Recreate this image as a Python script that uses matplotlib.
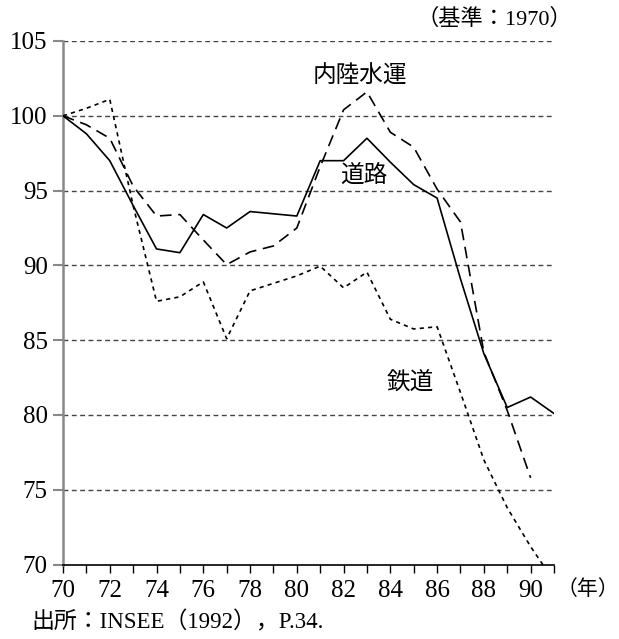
import numpy as np
import matplotlib
matplotlib.use("Agg")
import matplotlib.pyplot as plt

plt.rcParams['font.family'] = ['Liberation Serif', 'Noto Sans CJK JP']

years = list(range(70, 92))
road = [100, 98.8, 97.0, 94.0, 91.1, 90.85, 93.4, 92.5, 93.6, 93.45, 93.3,
        97.0, 97.0, 98.5, 96.9, 95.4, 94.5, 89.1, 84.1, 80.5, 81.2, 80.1]
inland = [100, 99.4, 98.5, 95.3, 93.3, 93.4, 91.7, 90.05, 90.9, 91.3, 92.5,
          96.6, 100.4, 101.6, 98.9, 97.9, 95.1, 92.9, 84.2, 80.3, 75.8, np.nan]
rail = [100, 100.5, 101.1, 94.0, 87.6, 87.9, 88.9, 85.1, 88.3, 88.8, 89.3,
        89.95, 88.5, 89.55, 86.4, 85.75, 85.9, 81.5, 77.0, 73.8, 71.2, 68.9]

yticks = [70, 75, 80, 85, 90, 95, 100, 105]
xlabels = list(range(70, 92, 2))

fig = plt.figure(figsize=(6.19, 6.39), dpi=100)
ax = fig.add_axes([63 / 619, 1 - 564.6 / 639, 491 / 619, 523.6 / 639])

# grid lines (dashed) at 75..105
for y in yticks[1:]:
    ax.axhline(y, color='#444444', lw=1.0, linestyle=(0, (3.5, 2.5)), zorder=1)

ax.plot(years, road, color='black', lw=1.2, zorder=3)
ax.plot(years, inland, color='black', lw=1.2, linestyle=(0, (7, 4)), zorder=3)
ax.plot(years, rail, color='black', lw=1.2, linestyle=(0, (2.5, 2.5)), zorder=3)

ax.set_xlim(70, 91)
ax.set_ylim(70, 105)

ax.set_xticks(xlabels)
ax.set_xticklabels([str(v) for v in xlabels])
ax.set_xticks(range(70, 92), minor=True)
ax.set_yticks(yticks)
ax.tick_params(axis='x', which='both', direction='out', length=6, width=1,
               color='black', labelsize=18, pad=5)
ax.tick_params(axis='y', direction='out', length=7, width=1.5,
               color='#888888', labelsize=18, pad=4)

for s in ['top', 'right']:
    ax.spines[s].set_visible(False)
ax.spines['left'].set_color('#888888')
ax.spines['left'].set_linewidth(1.8)
ax.spines['bottom'].set_color('black')
ax.spines['bottom'].set_linewidth(1.2)

ax.text(82.7, 102.6, '内陸水運', fontsize=17, ha='center', va='center')
ax.text(82.88, 96.0, '道路', fontsize=17, ha='center', va='center')
ax.text(84.87, 82.15, '鉄道', fontsize=17, ha='center', va='center')

fig.text(572 / 619, 1 - 19 / 639, '（基準：1970）', fontsize=16,
         ha='right', va='center')
fig.text(619 / 619, 1 - 590 / 639, '（年）', fontsize=15, ha='right', va='center')
fig.text(31 / 619, 1 - 622 / 639, '出所：INSEE（1992），P.34.', fontsize=16.5,
         ha='left', va='center')

fig.savefig('out.png', dpi=100)
